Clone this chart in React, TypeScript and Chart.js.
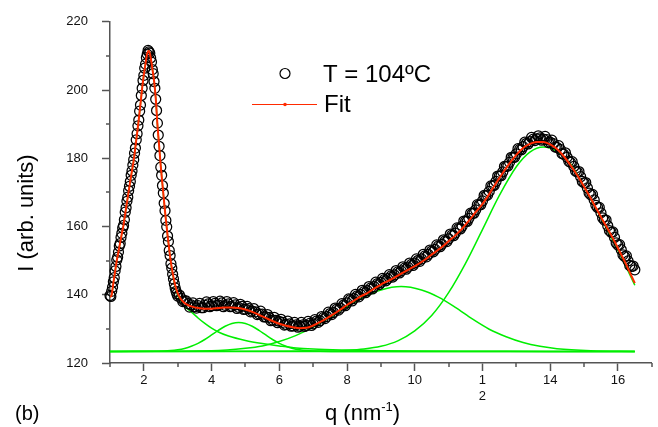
import React, { useEffect, useRef } from 'react';
import { Chart, registerables } from 'chart.js';

Chart.register(...registerables);

// ---------- axis ticks ----------
const xTickValues = [2, 4, 6, 8, 10, 12, 14, 16];
const xTickLabels: (string | string[])[] = ['2', '4', '6', '8', '10', ['1', '2'], '14', '16'];
const xMinorTicks = [1, 3, 5, 7, 9, 11, 13, 15, 17];
const yTickValues = [120, 140, 160, 180, 200, 220];
const yMinorTicks = [130, 150, 170, 190, 210];

// ---------- measured data (open circles) ----------
// main peak, dense sampling
const peakQ = [
  1, 1.025, 1.05, 1.075, 1.1, 1.125, 1.15, 1.175, 1.2, 1.225, 1.25, 1.275, 1.3, 1.325, 1.35, 1.375,
  1.4, 1.425, 1.45, 1.475, 1.5, 1.525, 1.55, 1.575, 1.6, 1.625, 1.65, 1.675, 1.7, 1.725, 1.75, 1.775,
  1.8, 1.825, 1.85, 1.875, 1.9, 1.925, 1.95, 1.975, 2, 2.025, 2.05, 2.075, 2.1, 2.125, 2.15, 2.175,
  2.2, 2.225, 2.25, 2.275, 2.3, 2.325, 2.35, 2.375, 2.4, 2.425, 2.45, 2.475, 2.5, 2.525, 2.55, 2.575,
  2.6, 2.625, 2.65, 2.675, 2.7, 2.725, 2.75, 2.775, 2.8, 2.825, 2.85, 2.875, 2.9, 2.925, 2.95, 2.975, 3,
];
const peakI = [
  139.8, 139.5, 141.0, 142.2, 143.8, 145.0, 147.0, 148.3, 150.2, 151.0, 152.5, 154.3, 155.0, 156.8, 158.0, 159.6,
  160.3, 162.0, 164.2, 165.5, 167.4, 168.6, 170.5, 171.8, 173.2, 175.0, 176.3, 178.0, 179.6, 181.5, 183.0, 185.4,
  187.2, 189.5, 191.2, 193.8, 195.6, 198.4, 200.5, 202.8, 204.3, 206.4, 207.6, 209.5, 210.5, 211.6, 211.2, 210.8,
  209.4, 208.2, 206.0, 204.8, 202.5, 200.5, 197.3, 194.0, 190.3, 186.8, 183.5, 180.8, 177.4, 175.0, 172.0, 169.8,
  166.8, 164.6, 161.8, 159.9, 157.2, 155.6, 153.0, 151.5, 149.1, 147.8, 146.0, 144.6, 143.2, 142.0, 141.0, 140.3, 139.6,
];
// rest of the curve, points at x.x0
const tailQ = [
  3.1, 3.2, 3.3, 3.4, 3.5, 3.6, 3.7, 3.8, 3.9, 4.0, 4.1, 4.2, 4.3, 4.4, 4.5, 4.6, 4.7, 4.8, 4.9, 5.0,
  5.1, 5.2, 5.3, 5.4, 5.5, 5.6, 5.7, 5.8, 5.9, 6.0, 6.1, 6.2, 6.3, 6.4, 6.5, 6.6, 6.7, 6.8, 6.9, 7.0,
  7.1, 7.2, 7.3, 7.4, 7.5, 7.6, 7.7, 7.8, 7.9, 8.0, 8.1, 8.2, 8.3, 8.4, 8.5, 8.6, 8.7, 8.8, 8.9, 9.0,
  9.1, 9.2, 9.3, 9.4, 9.5, 9.6, 9.7, 9.8, 9.9, 10.0, 10.1, 10.2, 10.3, 10.4, 10.5, 10.6, 10.7, 10.8, 10.9, 11.0,
  11.1, 11.2, 11.3, 11.4, 11.5, 11.6, 11.7, 11.8, 11.9, 12.0, 12.1, 12.2, 12.3, 12.4, 12.5, 12.6, 12.7, 12.8, 12.9, 13.0,
  13.1, 13.2, 13.3, 13.4, 13.5, 13.6, 13.7, 13.8, 13.9, 14.0, 14.1, 14.2, 14.3, 14.4, 14.5, 14.6, 14.7, 14.8, 14.9, 15.0,
  15.1, 15.2, 15.3, 15.4, 15.5, 15.6, 15.7, 15.8, 15.9, 16.0, 16.1, 16.2, 16.3, 16.4, 16.5,
];
const tailI = [
  139.0, 138.2, 137.4, 137.0, 136.5, 136.8, 136.2, 136.9, 137.3, 136.8, 137.5, 137.0, 137.6, 136.9, 137.3, 136.6, 137.0, 136.3, 136.6, 135.8,
  135.9, 135.2, 135.0, 134.4, 134.3, 133.5, 133.4, 132.6, 132.5, 132.2, 131.9, 131.3, 131.5, 130.9, 131.2, 130.8, 131.2, 131.0, 131.6, 131.5,
  132.3, 132.4, 133.3, 133.6, 134.5, 134.8, 135.8, 136.1, 137.0, 137.6, 138.6, 138.9, 139.7, 140.1, 140.9, 141.2, 142.0, 142.4, 143.3, 143.6,
  144.4, 144.7, 145.5, 145.8, 146.7, 147.0, 147.8, 148.1, 148.9, 149.3, 150.1, 150.5, 151.4, 151.8, 152.8, 153.3, 154.3, 154.8, 155.8, 156.4,
  157.5, 158.1, 159.4, 160.1, 161.5, 162.4, 163.8, 164.9, 166.3, 167.5, 169.0, 170.3, 171.9, 173.2, 174.8, 176.0, 177.6, 178.8, 180.2, 181.3,
  182.6, 183.4, 184.4, 184.9, 185.6, 185.7, 186.0, 185.6, 185.5, 184.7, 184.3, 183.2, 182.6, 181.2, 180.3, 178.8, 177.6, 176.0, 174.6, 172.8,
  171.3, 169.3, 167.8, 165.6, 164.0, 161.9, 160.2, 158.3, 156.8, 154.6, 153.2, 151.2, 149.9, 148.3, 147.3,
];
// rest of the curve, points at x.x5
const midQ = [
  3.05, 3.15, 3.25, 3.35, 3.45, 3.55, 3.65, 3.75, 3.85, 3.95, 4.05, 4.15, 4.25, 4.35, 4.45, 4.55, 4.65, 4.75, 4.85, 4.95,
  5.05, 5.15, 5.25, 5.35, 5.45, 5.55, 5.65, 5.75, 5.85, 5.95, 6.05, 6.15, 6.25, 6.35, 6.45, 6.55, 6.65, 6.75, 6.85, 6.95,
  7.05, 7.15, 7.25, 7.35, 7.45, 7.55, 7.65, 7.75, 7.85, 7.95, 8.05, 8.15, 8.25, 8.35, 8.45, 8.55, 8.65, 8.75, 8.85, 8.95,
  9.05, 9.15, 9.25, 9.35, 9.45, 9.55, 9.65, 9.75, 9.85, 9.95, 10.05, 10.15, 10.25, 10.35, 10.45, 10.55, 10.65, 10.75, 10.85, 10.95,
  11.05, 11.15, 11.25, 11.35, 11.45, 11.55, 11.65, 11.75, 11.85, 11.95, 12.05, 12.15, 12.25, 12.35, 12.45, 12.55, 12.65, 12.75, 12.85, 12.95,
  13.05, 13.15, 13.25, 13.35, 13.45, 13.55, 13.65, 13.75, 13.85, 13.95, 14.05, 14.15, 14.25, 14.35, 14.45, 14.55, 14.65, 14.75, 14.85, 14.95,
  15.05, 15.15, 15.25, 15.35, 15.45, 15.55, 15.65, 15.75, 15.85, 15.95, 16.05, 16.15, 16.25, 16.35, 16.45,
];
const midI = [
  139.9, 138.0, 138.2, 136.4, 137.6, 136.1, 137.5, 136.2, 137.9, 136.5, 138.0, 136.8, 138.1, 136.5, 138.0, 136.5, 137.7, 136.0, 137.2, 135.7,
  136.6, 135.0, 135.9, 134.2, 135.2, 133.5, 134.2, 132.4, 133.4, 131.8, 132.8, 131.1, 132.3, 130.8, 131.9, 130.5, 131.9, 130.7, 132.2, 131.0,
  132.7, 131.9, 133.6, 133.0, 134.9, 134.2, 136.1, 135.5, 137.4, 136.8, 138.8, 138.2, 140.1, 139.4, 141.3, 140.6, 142.4, 141.7, 143.7, 143.0,
  144.8, 144.1, 145.9, 145.2, 147.1, 146.4, 148.2, 147.5, 149.3, 148.6, 150.5, 149.8, 151.8, 151.1, 153.1, 152.6, 154.6, 154.1, 156.1, 155.6,
  157.8, 157.3, 159.6, 159.3, 161.6, 161.5, 163.9, 163.9, 166.4, 166.4, 169.1, 169.2, 171.9, 172.1, 174.8, 174.9, 177.6, 177.7, 180.3, 180.3,
  182.8, 182.5, 184.7, 184.2, 186.1, 185.2, 186.6, 185.3, 186.4, 184.6, 185.3, 183.3, 183.7, 181.4, 181.6, 179.1, 179.0, 176.3, 176.1, 173.2,
  172.9, 169.8, 169.4, 166.2, 165.6, 162.5, 161.9, 158.8, 158.4, 155.2, 154.7, 151.7, 151.4, 148.6, 148.4,
];

// ---------- total fit (red) ----------
const fitQ = [
  1.0, 1.05, 1.1, 1.15, 1.2, 1.25, 1.3, 1.35, 1.4, 1.45, 1.5, 1.55, 1.6, 1.65, 1.7, 1.75, 1.8, 1.85, 1.9, 1.95,
  2.0, 2.05, 2.1, 2.15, 2.2, 2.25, 2.3, 2.35, 2.4, 2.45, 2.5, 2.55, 2.6, 2.65, 2.7, 2.75, 2.8, 2.85, 2.9, 2.95, 3.0,
  3.1, 3.2, 3.3, 3.4, 3.6, 3.8, 4.0, 4.2, 4.4, 4.6, 4.8, 5.0, 5.2, 5.4, 5.6, 5.8, 6.0, 6.2, 6.4, 6.6, 6.8,
  7.0, 7.2, 7.4, 7.6, 7.8, 8.0, 8.2, 8.4, 8.6, 8.8, 9.0, 9.2, 9.4, 9.6, 9.8, 10.0, 10.2, 10.4, 10.6, 10.8,
  11.0, 11.2, 11.4, 11.6, 11.8, 12.0, 12.2, 12.4, 12.6, 12.8, 13.0, 13.2, 13.4, 13.6, 13.8, 14.0, 14.2, 14.4,
  14.6, 14.8, 15.0, 15.2, 15.4, 15.6, 15.8, 16.0, 16.2, 16.4, 16.5,
];
const fitI = [
  139.3, 140.0, 143.5, 146.8, 150.0, 152.6, 155.3, 157.9, 160.5, 163.8, 167.0, 170.2, 173.4, 176.4, 179.4, 183.3, 187.3, 191.4, 195.9, 200.6,
  204.5, 207.8, 210.8, 211.5, 209.6, 206.3, 202.8, 197.7, 190.0, 183.8, 177.6, 172.2, 167.0, 162.0, 157.5, 153.2, 149.4, 146.4, 143.9, 141.9, 140.4,
  138.6, 137.6, 137.0, 136.6, 136.1, 135.9, 135.9, 136.1, 136.3, 136.3, 136.1, 135.7, 135.0, 134.1, 133.2, 132.3, 131.5, 130.9, 130.5, 130.2, 130.3,
  131.0, 132.0, 133.1, 134.3, 135.6, 137.0, 138.2, 139.5, 140.5, 141.8, 143.0, 144.0, 145.0, 146.2, 147.3, 148.4, 149.6, 151.0, 152.5, 154.0,
  155.7, 157.4, 159.4, 161.7, 164.2, 166.6, 169.5, 172.7, 175.7, 178.5, 181.0, 183.0, 184.2, 184.8, 184.8, 184.1, 182.7, 180.6,
  178.0, 175.0, 171.7, 168.2, 164.6, 161.0, 157.5, 153.7, 149.8, 145.5, 143.4,
];

// ---------- fit components (green) ----------
const baseQ = [1.0, 16.5];
const baseI = [123.4, 123.4];

const peak1Q = [
  1.0, 1.05, 1.1, 1.15, 1.2, 1.25, 1.3, 1.35, 1.4, 1.45, 1.5, 1.55, 1.6, 1.65, 1.7, 1.75, 1.8, 1.85, 1.9, 1.95,
  2.0, 2.05, 2.1, 2.15, 2.2, 2.25, 2.3, 2.35, 2.4, 2.45, 2.5, 2.55, 2.6, 2.65, 2.7, 2.75, 2.8, 2.85, 2.9, 2.95, 3.0,
  3.1, 3.2, 3.4, 3.6, 3.8, 4.0, 4.2, 4.5, 5.0, 5.5, 6.0, 6.5, 7.0, 8.0, 9.0, 10.0, 12.0, 14.0, 16.5,
];
const peak1I = [
  139.3, 140.0, 143.5, 146.8, 150.0, 152.6, 155.3, 157.9, 160.5, 163.8, 167.0, 170.2, 173.4, 176.4, 179.4, 183.3, 187.3, 191.4, 195.9, 200.6,
  204.5, 207.8, 210.8, 211.5, 209.6, 206.3, 202.8, 197.7, 190.0, 183.8, 177.6, 172.2, 166.9, 161.9, 157.3, 153.0, 149.2, 146.1, 143.5, 141.4, 139.8,
  138.0, 136.6, 135.0, 133.2, 131.6, 130.2, 129.1, 127.9, 126.6, 125.7, 125.0, 124.4, 124.1, 123.8, 123.6, 123.5, 123.45, 123.4, 123.4,
];

const peak2Q = [1.0, 2.4, 2.8, 3.0, 3.2, 3.4, 3.6, 3.8, 4.0, 4.2, 4.4, 4.6, 4.8, 5.0, 5.2, 5.4, 5.6, 5.8, 6.0, 6.2, 6.4, 6.6, 6.8, 7.2, 8.0, 16.5];
const peak2I = [123.4, 123.45, 123.64, 123.88, 124.27, 124.89, 125.76, 126.89, 128.21, 129.57, 130.77, 131.6, 131.9, 131.6, 130.77, 129.57, 128.21, 126.89, 125.76, 124.89, 124.27, 123.88, 123.64, 123.45, 123.4, 123.4];

const peak3Q = [1.0, 4.0, 5.0, 5.5, 6.0, 6.5, 7.0, 7.5, 8.0, 8.5, 9.0, 9.6, 10.2, 10.7, 11.2, 11.7, 12.2, 12.7, 13.2, 13.7, 14.2, 15.2, 16.5];
const peak3I = [123.4, 123.6, 124.3, 125.0, 126.3, 128.1, 130.5, 133.4, 136.5, 139.3, 141.4, 142.4, 141.4, 139.3, 136.3, 132.9, 129.9, 127.7, 126.0, 124.9, 124.2, 123.6, 123.4];

const peak4Q = [1.0, 7.5, 8.0, 8.5, 9.0, 9.5, 10.0, 10.5, 11.0, 11.5, 12.0, 12.5, 13.0, 13.4, 13.8, 14.2, 14.6, 15.1, 15.6, 16.1, 16.5];
const peak4I = [123.4, 123.5, 123.7, 124.1, 124.9, 126.5, 129.4, 133.9, 140.6, 149.2, 159.1, 169.1, 177.5, 181.8, 183.3, 182.0, 178.4, 169.8, 160.6, 151.1, 142.8];

// ---------- text ----------
const seriesLabel = 'T = 104ºC';
const fitLabel = 'Fit';
const yTitle = 'I (arb. units)';
const panelLabel = '(b)';

const FONT = '"Liberation Sans", Arial, Helvetica, sans-serif';
const AXIS = '#555555';
const RED = '#ff2a00';
const GREEN = '#00ee00';

const pts = (qs: number[], is: number[]) => {
  const n = Math.min(qs.length, is.length);
  const out: { x: number; y: number }[] = [];
  for (let i = 0; i < n; i++) out.push({ x: qs[i], y: is[i] });
  return out;
};

const decorPlugin = {
  id: 'decor',
  afterDraw(chart: any) {
    const ctx = chart.ctx as CanvasRenderingContext2D;
    const xs = chart.scales.x;
    const ys = chart.scales.y;
    const area = chart.chartArea;
    ctx.save();
    // minor ticks
    ctx.strokeStyle = AXIS;
    ctx.lineWidth = 1.5;
    xMinorTicks.forEach((v) => {
      const px = Math.round(xs.getPixelForValue(v));
      ctx.beginPath();
      ctx.moveTo(px, area.bottom);
      ctx.lineTo(px, area.bottom + 4);
      ctx.stroke();
    });
    yMinorTicks.forEach((v) => {
      const py = Math.round(ys.getPixelForValue(v));
      ctx.beginPath();
      ctx.moveTo(area.left, py);
      ctx.lineTo(area.left - 4, py);
      ctx.stroke();
    });

    ctx.fillStyle = '#000';
    // y title
    ctx.save();
    ctx.translate(27, 213);
    ctx.rotate(-Math.PI / 2);
    ctx.font = `22px ${FONT}`;
    ctx.textAlign = 'center';
    ctx.textBaseline = 'middle';
    ctx.fillText(yTitle, 0, 0);
    ctx.restore();

    // x title: q (nm^-1)
    ctx.textAlign = 'left';
    ctx.textBaseline = 'alphabetic';
    let x = 325;
    ctx.font = `22px ${FONT}`;
    ctx.fillText('q (nm', x, 420);
    x += ctx.measureText('q (nm').width;
    ctx.font = `13px ${FONT}`;
    ctx.fillText('-1', x, 411);
    x += ctx.measureText('-1').width;
    ctx.font = `22px ${FONT}`;
    ctx.fillText(')', x, 420);

    // panel label
    ctx.font = `20px ${FONT}`;
    ctx.fillText(panelLabel, 15, 420);

    // legend
    ctx.strokeStyle = '#000';
    ctx.lineWidth = 1.2;
    ctx.beginPath();
    ctx.arc(285, 73.5, 5, 0, Math.PI * 2);
    ctx.stroke();
    ctx.font = `24px ${FONT}`;
    ctx.fillText(seriesLabel, 323, 81.5);

    ctx.strokeStyle = RED;
    ctx.lineWidth = 1.2;
    ctx.beginPath();
    ctx.moveTo(252, 104.5);
    ctx.lineTo(317, 104.5);
    ctx.stroke();
    ctx.fillStyle = RED;
    ctx.beginPath();
    ctx.arc(285, 104.5, 1.8, 0, Math.PI * 2);
    ctx.fill();
    ctx.fillStyle = '#000';
    ctx.fillText(fitLabel, 324, 111.5);
    ctx.restore();
  },
};

export default function App() {
  const canvasRef = useRef<HTMLCanvasElement | null>(null);

  useEffect(() => {
    if (!canvasRef.current) return;
    const greenLine = (label: string, qs: number[], is: number[]) => ({
      label,
      data: pts(qs, is),
      borderColor: GREEN,
      borderWidth: 1.5,
      pointRadius: 0,
      fill: false,
      cubicInterpolationMode: 'monotone' as const,
    });
    const measured = [...pts(peakQ, peakI), ...pts(tailQ, tailI), ...pts(midQ, midI)];
    const chart = new Chart(canvasRef.current, {
      type: 'line',
      data: {
        datasets: [
          {
            label: fitLabel,
            data: pts(fitQ, fitI),
            borderColor: RED,
            borderWidth: 2,
            pointRadius: 0,
            fill: false,
            cubicInterpolationMode: 'monotone',
          },
          {
            label: seriesLabel,
            data: measured,
            showLine: false,
            pointRadius: 5,
            pointBorderWidth: 1.25,
            pointBorderColor: '#000',
            pointBackgroundColor: 'rgba(255,255,255,0)',
            clip: false as any,
          },
          greenLine('Peak 1', peak1Q, peak1I),
          greenLine('Peak 2', peak2Q, peak2I),
          greenLine('Peak 3', peak3Q, peak3I),
          greenLine('Peak 4', peak4Q, peak4I),
          greenLine('Background', baseQ, baseI),
        ] as any,
      },
      options: {
        responsive: false,
        animation: false,
        devicePixelRatio: 1,
        layout: { padding: { top: 20, right: 5, left: 0, bottom: 0 } },
        plugins: {
          legend: { display: false },
          tooltip: { enabled: false },
          title: { display: false },
        },
        scales: {
          x: {
            type: 'linear',
            min: 1,
            max: 17,
            afterBuildTicks: (s: any) => {
              s.ticks = xTickValues.map((v) => ({ value: v }));
            },
            afterFit: (s: any) => {
              s.height = 64;
            },
            ticks: {
              autoSkip: false,
              maxRotation: 0,
              padding: 2,
              color: '#111',
              font: { family: FONT, size: 13 },
              callback: (v: any) => {
                const i = xTickValues.indexOf(Number(v));
                return i >= 0 ? xTickLabels[i] : '';
              },
            },
            grid: { drawOnChartArea: false, drawTicks: true, tickLength: 8, tickColor: AXIS, tickWidth: 1.5 },
            border: { display: true, color: AXIS, width: 1.5 },
          },
          y: {
            type: 'linear',
            min: 120,
            max: 220,
            afterBuildTicks: (s: any) => {
              s.ticks = yTickValues.map((v) => ({ value: v }));
            },
            afterFit: (s: any) => {
              s.width = 110;
            },
            ticks: {
              padding: 14,
              color: '#111',
              font: { family: FONT, size: 13 },
              callback: (v: any) => String(v),
            },
            grid: { drawOnChartArea: false, drawTicks: true, tickLength: 8, tickColor: AXIS, tickWidth: 1.5 },
            border: { display: true, color: AXIS, width: 1.5 },
          },
        },
      },
      plugins: [decorPlugin],
    });
    return () => chart.destroy();
  }, []);

  return (
    <div style={{ position: 'fixed', left: 0, top: 0, width: 658, height: 427, background: '#fff' }}>
      <canvas ref={canvasRef} width={658} height={427} style={{ display: 'block', width: 658, height: 427 }} />
    </div>
  );
}
